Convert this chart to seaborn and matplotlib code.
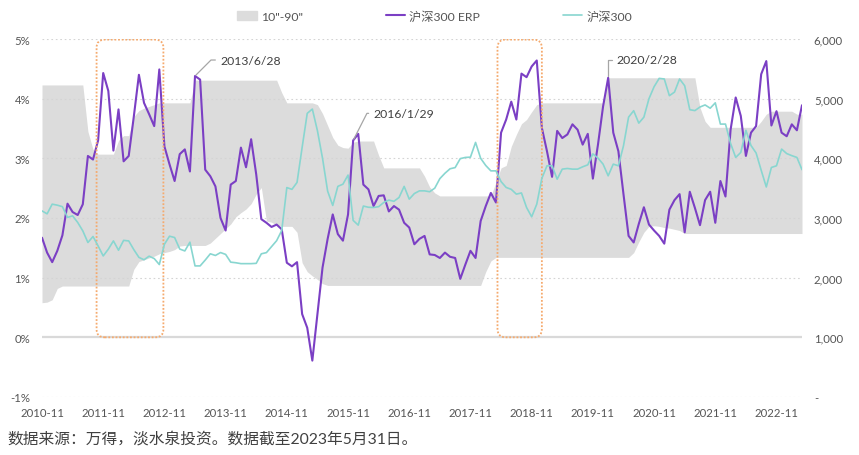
import numpy as np
import pandas as pd
import matplotlib
matplotlib.use("Agg")
import matplotlib.pyplot as plt
import seaborn as sns
from matplotlib.patches import FancyBboxPatch, Patch
from matplotlib.lines import Line2D

# monthly data, first point 2010-11
erp = [1.67, 1.42, 1.26, 1.45, 1.71, 2.24, 2.10, 2.05, 2.23, 3.04,
       2.98, 3.30, 4.43, 4.13, 3.13, 3.82, 2.95, 3.04, 3.70, 4.40,
       3.93, 3.74, 3.54, 4.49, 3.20, 2.90, 2.62, 3.07, 3.15, 2.78,
       4.38, 4.32, 2.81, 2.70, 2.53, 2.00, 1.79, 2.56, 2.62, 3.18,
       2.85, 3.32, 2.73, 1.98, 1.92, 1.85, 1.89, 1.81, 1.25, 1.19,
       1.26, 0.39, 0.16, -0.39, 0.39, 1.17, 1.65, 2.06, 1.73, 1.62,
       2.06, 3.30, 3.41, 2.56, 2.48, 2.20, 2.37, 2.38, 2.11, 2.20,
       2.14, 1.92, 1.84, 1.56, 1.65, 1.70, 1.39, 1.38, 1.33, 1.42,
       1.35, 1.33, 0.98, 1.22, 1.45, 1.33, 1.95, 2.20, 2.42, 2.26,
       3.43, 3.65, 3.95, 3.65, 4.42, 4.36, 4.54, 4.64, 3.51, 3.12,
       2.69, 3.46, 3.34, 3.40, 3.57, 3.48, 3.23, 3.41, 2.66, 3.23,
       3.87, 4.35, 3.43, 3.12, 2.40, 1.70, 1.59, 1.90, 2.18, 1.89,
       1.79, 1.70, 1.57, 2.14, 2.30, 2.40, 1.76, 2.44, 2.17, 1.88,
       2.30, 2.44, 1.92, 2.62, 2.36, 3.48, 4.02, 3.71, 3.04, 3.43,
       3.54, 4.41, 4.63, 3.55, 3.79, 3.43, 3.37, 3.57, 3.47, 3.89]

hs300 = [3119, 3070, 3232, 3215, 3190, 3010, 3036, 2925, 2784, 2589,
         2690, 2532, 2364, 2477, 2616, 2460, 2625, 2616, 2470, 2340,
         2300, 2360, 2320, 2220, 2560, 2695, 2673, 2480, 2448, 2595,
         2197, 2197, 2295, 2400, 2372, 2421, 2390, 2260, 2250, 2235,
         2235, 2235, 2240, 2400, 2420, 2520, 2620, 2790, 3510, 3480,
         3596, 4183, 4754, 4826, 4462, 4000, 3450, 3210, 3530, 3567,
         3720, 2960, 2880, 3200, 3180, 3176, 3190, 3260, 3300, 3280,
         3344, 3530, 3316, 3410, 3455, 3455, 3440, 3500, 3660, 3750,
         3825, 3845, 3995, 4015, 4020, 4267, 4000, 3880, 3790, 3790,
         3610, 3512, 3480, 3400, 3420, 3176, 3020, 3232, 3665, 3875,
         3875, 3651, 3819, 3830, 3819, 3819, 3858, 3891, 4075, 4004,
         3903, 3707, 3903, 3875, 4210, 4690, 4798, 4590, 4690, 5000,
         5200, 5340, 5330, 5050, 5110, 5330, 5217, 4815, 4800, 4860,
         4895, 4840, 4930, 4574, 4574, 4250, 4015, 4099, 4470, 4215,
         4090, 3800, 3520, 3847, 3875, 4155, 4080, 4045, 4015, 3810]

# 10th / 90th percentile band of ERP
p90 = [4.23, 4.23, 4.23, 4.23, 4.23, 4.23, 4.23, 4.23, 4.23, 3.45,
       3.15, 3.07, 3.07, 3.07, 3.07, 3.30, 3.38, 3.38, 3.70, 3.80,
       3.84, 3.87, 3.90, 3.93, 3.93, 3.93, 3.93, 3.93, 3.93, 3.93,
       4.31, 4.31, 4.31, 4.31, 4.31, 4.31, 4.31, 4.31, 4.31, 4.31,
       4.31, 4.31, 4.31, 4.31, 4.31, 4.31, 4.31, 4.10, 3.93, 3.93,
       3.93, 3.93, 3.93, 3.93, 3.90, 3.75, 3.55, 3.35, 3.22, 3.18,
       3.17, 3.27, 3.29, 3.29, 3.29, 3.29, 3.05, 2.84, 2.84, 2.84,
       2.84, 2.84, 2.84, 2.84, 2.84, 2.70, 2.52, 2.42, 2.37, 2.37,
       2.37, 2.37, 2.37, 2.37, 2.37, 2.37, 2.37, 2.37, 2.37, 2.60,
       2.84, 2.88, 3.20, 3.40, 3.58, 3.65, 3.78, 3.90, 3.93, 3.93,
       3.93, 3.93, 3.93, 3.93, 3.93, 3.93, 3.93, 3.93, 3.93, 3.93,
       3.93, 4.35, 4.35, 4.35, 4.35, 4.35, 4.35, 4.35, 4.35, 4.35,
       4.35, 4.35, 4.35, 4.35, 4.35, 4.35, 4.35, 4.35, 4.35, 3.85,
       3.62, 3.52, 3.52, 3.52, 3.52, 3.52, 3.52, 3.52, 3.52, 3.52,
       3.52, 3.62, 3.74, 3.79, 3.79, 3.79, 3.79, 3.79, 3.74, 3.74]

p10 = [0.58, 0.59, 0.63, 0.82, 0.86, 0.86, 0.86, 0.86, 0.86, 0.86,
       0.86, 0.86, 0.86, 0.86, 0.86, 0.86, 0.86, 0.86, 1.14, 1.27,
       1.30, 1.33, 1.36, 1.40, 1.42, 1.44, 1.47, 1.53, 1.54, 1.54,
       1.54, 1.54, 1.54, 1.58, 1.66, 1.74, 1.82, 1.90, 2.02, 2.09,
       2.15, 2.24, 2.40, 2.51, 1.95, 1.93, 1.88, 1.86, 1.86, 1.86,
       1.76, 1.25, 1.10, 1.03, 0.97, 0.90, 0.87, 0.87, 0.87, 0.87,
       0.87, 0.87, 0.87, 0.87, 0.87, 0.87, 0.87, 0.87, 0.87, 0.87,
       0.87, 0.87, 0.87, 0.87, 0.87, 0.87, 0.87, 0.87, 0.87, 0.87,
       0.87, 0.87, 0.87, 0.87, 0.87, 0.87, 0.87, 1.10, 1.28, 1.34,
       1.34, 1.34, 1.34, 1.34, 1.34, 1.34, 1.34, 1.34, 1.34, 1.34,
       1.34, 1.34, 1.34, 1.34, 1.34, 1.34, 1.34, 1.34, 1.34, 1.34,
       1.34, 1.34, 1.34, 1.34, 1.34, 1.34, 1.42, 1.60, 1.76, 1.86,
       1.87, 1.86, 1.84, 1.83, 1.81, 1.79, 1.74, 1.74, 1.74, 1.74,
       1.74, 1.74, 1.74, 1.74, 1.74, 1.74, 1.74, 1.74, 1.74, 1.74,
       1.74, 1.74, 1.74, 1.74, 1.74, 1.74, 1.74, 1.74, 1.74, 1.74]

xtick_labels = ["2010-11", "2011-11", "2012-11", "2013-11", "2014-11", "2015-11", "2016-11",
                "2017-11", "2018-11", "2019-11", "2020-11", "2021-11", "2022-11"]
left_ticks = [-1, 0, 1, 2, 3, 4, 5]
right_ticks = [0, 1000, 2000, 3000, 4000, 5000, 6000]

# highlighted periods (month index) and annotated dates
highlights = [(10.7, 23.8), (89.3, 98.0)]
notes = [("2013/6/28", 30, (18, 11.5), 45), ("2016/1/29", 61, (14.5, 19.5), 63), ("2020/2/28", 111, (6.2, 13), 90)]

purple = "#7B3FC4"
teal = "#88D6D0"
band = "#DCDCDC"
txt = "#555555"

df = pd.DataFrame({"m": np.arange(len(erp)), "erp": erp, "hs300": hs300, "p10": p10, "p90": p90})

sns.set_theme(style="white")
plt.rcParams["font.family"] = ["Lato", "Noto Sans CJK SC", "DejaVu Sans"]

fig = plt.figure(figsize=(8.59, 4.56), dpi=100)
ax = fig.add_axes([42 / 859, 58 / 456, 760 / 859, 358 / 456])

ax.fill_between(df["m"], df["p10"], df["p90"], color=band, lw=0, zorder=1)
for v in left_ticks:
    if v == 0:
        ax.axhline(v, color="#D9D9D9", lw=1.6, zorder=1.5)
    else:
        ax.axhline(v, color="#D4D4D4", lw=0.8, ls=(0, (1.5, 2.5)), zorder=1.5)
sns.lineplot(data=df, x="m", y="erp", ax=ax, color=purple, lw=1.5, zorder=3)

ax.set_xlim(0, len(erp) - 1)
ax.set_ylim(-1, 5)
ax.set_xticks([12 * k for k in range(len(xtick_labels))])
ax.set_xticklabels(xtick_labels)
ax.set_yticks(left_ticks)
ax.set_yticklabels([f"{v}%" for v in left_ticks])
ax.tick_params(axis="both", length=0, labelsize=8.2, colors=txt)
ax.tick_params(axis="x", pad=7.5)
ax.tick_params(axis="y", pad=8.5)
ax.set_xlabel("")
ax.set_ylabel("")

for x0, x1 in highlights:
    box = FancyBboxPatch((x0, 0), x1 - x0, 4.99, boxstyle="round,pad=0,rounding_size=1.6",
                         mutation_aspect=0.085, fill=False, ec="#F5AA6E", lw=1.3, ls=(0, (1, 1)), zorder=4)
    ax.add_patch(box)

for label, i, off, ang in notes:
    ax.annotate(label, xy=(i, erp[i]), xytext=off, textcoords="offset points", ha="left", va="center",
                fontsize=8.8, color="#404040",
                arrowprops=dict(arrowstyle="-", color="#A6A6A6", lw=0.9, shrinkA=1, shrinkB=1,
                                connectionstyle=f"angle,angleA=0,angleB={ang},rad=0"))

ax2 = ax.twinx()
sns.lineplot(data=df, x="m", y="hs300", ax=ax2, color=teal, lw=1.2)
ax2.set_ylim(0, 6000)
ax2.set_yticks(right_ticks)
ax2.set_yticklabels(["-" if v == 0 else f"{v:,}" for v in right_ticks])
ax2.tick_params(axis="y", length=0, labelsize=8.2, colors=txt, pad=8.5)
ax2.set_ylabel("")
ax2.grid(False)

for a in (ax, ax2):
    for s in a.spines.values():
        s.set_visible(False)

handles = [Patch(color=band, label='10"-90"'),
           Line2D([], [], color=purple, lw=1.5, label="沪深300 ERP"),
           Line2D([], [], color=teal, lw=1.2, label="沪深300")]
leg = fig.legend(handles=handles, loc="center", bbox_to_anchor=(0.506, 0.963), ncol=3, frameon=False,
                 fontsize=8.8, columnspacing=6.8, handlelength=1.6, handletextpad=0.3)
for t in leg.get_texts():
    t.set_color(txt)

fig.text(7 / 859, 1 - 439 / 456, "数据来源：万得，淡水泉投资。数据截至2023年5月31日。",
         fontsize=11.3, color="#404040", ha="left", va="center")

fig.savefig("out.png", dpi=100)
